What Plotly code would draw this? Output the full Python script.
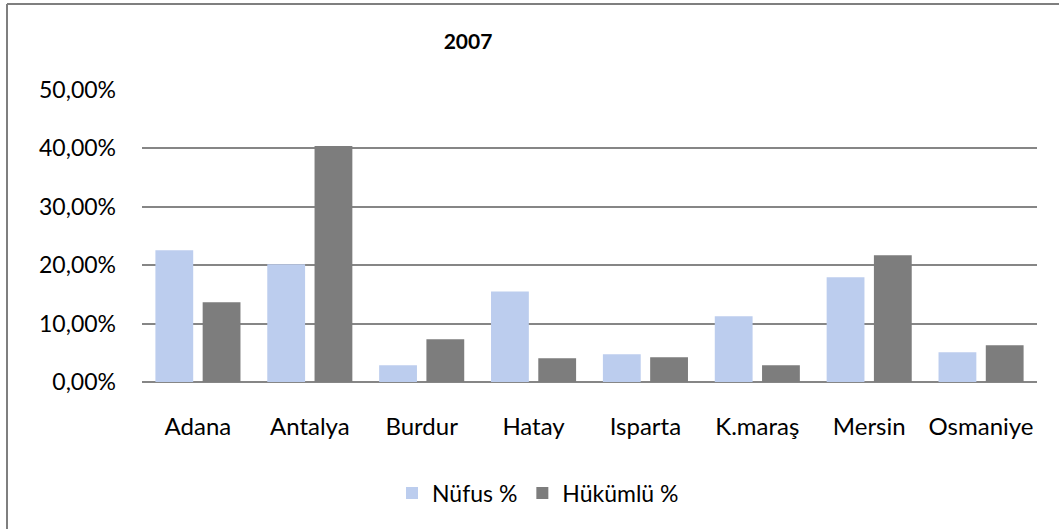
import plotly.graph_objects as go

categories = ["Adana", "Antalya", "Burdur", "Hatay", "Isparta", "K.maraş", "Mersin", "Osmaniye"]
nufus = [0.2255, 0.2015, 0.0286, 0.1550, 0.0474, 0.1125, 0.1793, 0.0508]
hukumlu = [0.1365, 0.4040, 0.0730, 0.0406, 0.0423, 0.0286, 0.2170, 0.0628]
y_ticks = [0, 0.1, 0.2, 0.3, 0.4, 0.5]

W, H = 1059, 529
L, R, T, B = 142, 22, 90, 147
pw = W - L - R
ph = H - T - B

FONT = "Lato"
fig = go.Figure()
fig.add_trace(go.Bar(
    x=categories, y=nufus, name="Nüfus %",
    marker=dict(color="#bccdee", line=dict(width=0)),
))
fig.add_trace(go.Bar(
    x=categories, y=hukumlu, name="Hükümlü %",
    marker=dict(color="#7d7d7d", line=dict(width=0)),
))

fig.update_layout(
    width=W, height=H,
    margin=dict(l=L, r=R, t=T, b=B),
    paper_bgcolor="white", plot_bgcolor="white",
    separators=",.",
    barmode="group", bargap=0.155, bargroupgap=0.2,
    font=dict(family=FONT, size=23, color="#000000"),
    title=dict(text="<b>2007</b>", xref="container", yref="container",
               x=468 / W, y=1 - 42 / H, xanchor="center", yanchor="middle",
               font=dict(family=FONT, size=21, color="#000000")),
    showlegend=True,
    legend=dict(orientation="h", xref="paper", yref="paper",
                x=(538 - L) / pw, y=(ph + T - 493) / ph,
                xanchor="center", yanchor="middle",
                font=dict(family=FONT, size=23), bgcolor="rgba(0,0,0,0)"),
    xaxis=dict(showline=False, showgrid=False, ticks="", ticklabelstandoff=28,
               tickfont=dict(family=FONT, size=24)),
    yaxis=dict(range=[0, 0.5], tickvals=y_ticks, tickformat=".2%",
               showgrid=True, gridcolor="#868686", gridwidth=2,
               zeroline=True, zerolinecolor="#868686", zerolinewidth=2,
               showline=False, ticks="", ticklabelstandoff=25,
               tickfont=dict(family=FONT, size=23)),
    shapes=[
        dict(type="line", xref="paper", yref="paper",
             x0=(7 - L) / pw, x1=(7 - L) / pw, y0=1 + (T - 4) / ph, y1=-(H - ph - T + 10) / ph,
             line=dict(color="#7f7f7f", width=2)),
        dict(type="line", xref="paper", yref="paper",
             x0=(7 - L) / pw, x1=1 + (R + 10) / pw, y0=1 + (T - 4) / ph, y1=1 + (T - 4) / ph,
             line=dict(color="#7f7f7f", width=2)),
    ],
)

fig.write_html("out.html", config={"displayModeBar": False},
               post_script="document.body.style.margin='0px';")
